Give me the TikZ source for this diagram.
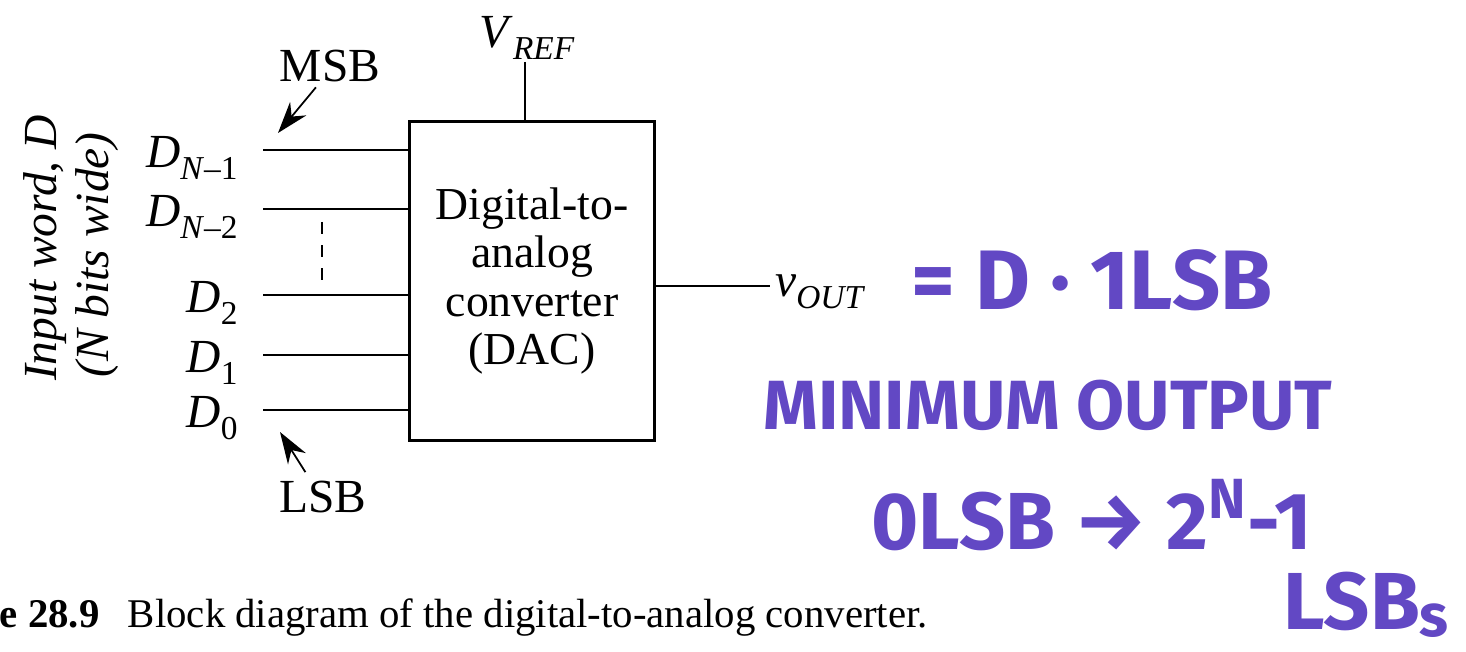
\documentclass[tikz,border=0pt]{standalone}
\usepackage{fontspec}
\setmainfont{Liberation Serif}
\newfontfamily\handfont{Fira Sans}
\usepackage{xcolor}
\usetikzlibrary{arrows.meta,positioning}
\definecolor{marker}{RGB}{98,72,196}
\newcommand{\sub}[2]{#1\raisebox{-0.55ex}{\fontsize{9.5}{10}\selectfont #2}}

\begin{document}
\begin{tikzpicture}[x=0.01cm,y=-0.01cm,font=\fontsize{13.5}{15}\selectfont]
  \tikzstyle{wire}=[line width=0.65pt]
  \tikzstyle{pointer}=[-{Stealth[length=9pt,width=6pt]}, line width=0.5pt]
  \tikzstyle{hand}=[color=marker, inner sep=0pt]
  \useasboundingbox (0,0) rectangle (1466,652);
  \node[draw,line width=0.8pt,minimum width=2.45cm,minimum height=3.19cm,align=center,
        font=\fontsize{13}{13.7}\selectfont] (dac) at (532,281)
        {Digital-to-\\analog\\converter\\(DAC)};
  \foreach \y/\n/\lab in {150/a/{\sub{\textit{D}}{\textit{N}–1}},
                          209/b/{\sub{\textit{D}}{\textit{N}–2}},
                          295/c/{\sub{\textit{D}}{2}},
                          355/d/{\sub{\textit{D}}{1}},
                          410/e/{\sub{\textit{D}}{0}}} {
    \coordinate (in\n) at (263,\y);
    \draw[wire] (in\n) -- (dac.west |- in\n);
    \node[anchor=base east] (lab\n) at (250,\y+18) {\lab};
  }
  \coordinate (dtop) at (322,222);
  \coordinate (dbot) at (322,282);
  \draw[line width=0.75pt,dash pattern=on 3.4pt off 3.2pt] (dtop) -- (dbot);
  % reference voltage
  \node (vref) at (527,38) {\sub{\textit{V}}{\textit{REF}}};
  \coordinate (vtop) at (525,62);
  \draw[wire] (vtop) -- (dac.north -| vtop);
  % output
  \coordinate (outend) at (770,286);
  \draw[wire] (dac.east |- outend) -- (outend);
  \node[anchor=base west,inner sep=1pt] (vout) at (771,297) {\sub{\textit{v}}{\textit{OUT}}};
  % msb / lsb pointers
  \node (msb) at (330,66) {MSB};
  \coordinate (msbtip) at (278,133);
  \draw[pointer] ([xshift=-4pt,yshift=2pt]msb.south) -- (msbtip);
  \node (lsb) at (323,497) {LSB};
  \coordinate (lsbtip) at (280,432);
  \draw[pointer] ([xshift=-5pt,yshift=-1pt]lsb.north) -- (lsbtip);
  \node[rotate=90] (word) at (45,248) {\textit{Input word, D}};
  \node[rotate=90] (wide) at (97,255) {\textit{(N bits wide)}};
  \node[anchor=base west,inner sep=0pt,font=\fontsize{11.6}{13}\selectfont] (cap) at (-1,628)
        {\textbf{e 28.9}\hspace{0.45em} Block diagram of the digital-to-analog converter.};
  % handwritten notes
  \node[hand,font=\handfont\bfseries\fontsize{24}{24}\selectfont] (eq) at (1092,280) {= D · 1LSB};
  \node[hand,font=\handfont\bfseries\fontsize{19.8}{20}\selectfont] (minout) at (1048,405) {MINIMUM OUTPUT};
  \node[hand,font=\handfont\bfseries\fontsize{23}{23}\selectfont] (range) at (1092,515) {0LSB → 2\textsuperscript{N}-1};
  \node[hand,font=\handfont\bfseries\fontsize{23}{23}\selectfont] (lsbs) at (1366,605)
        {LSB\raisebox{-0.15ex}{\fontsize{17}{17}\selectfont s}};
\end{tikzpicture}
\end{document}
